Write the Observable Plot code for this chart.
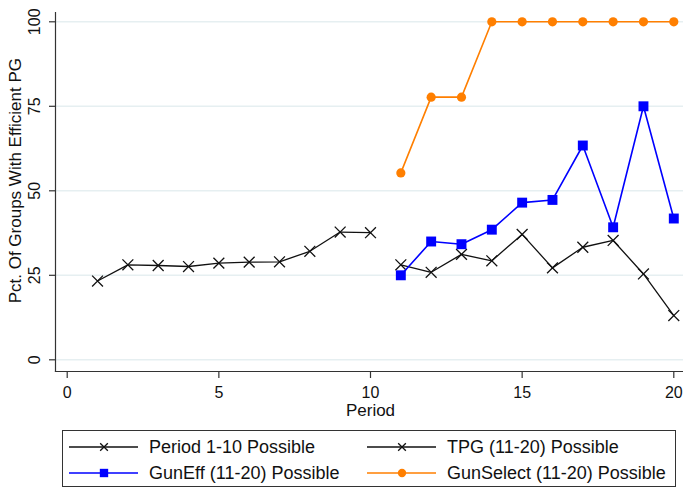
<!DOCTYPE html>
<html>
<head>
<meta charset="utf-8">
<script src="https://cdn.jsdelivr.net/npm/d3@7"></script>
<script src="https://cdn.jsdelivr.net/npm/@observablehq/plot@0.6"></script>
<style>
  body { margin: 0; background: #fff; font-family: "Liberation Sans", Arial, sans-serif; }
  #wrap { position: relative; width: 683px; height: 489px; }
  #legend { position: absolute; left: 62px; top: 430px; width: 614px; height: 57px;
            border: 1px solid #333; box-sizing: border-box; background: #fff; }
  .item { position: absolute; display: flex; align-items: center; font-size: 18px; color: #111; white-space: nowrap; }
  .item svg { margin-right: 10px; }
</style>
</head>
<body>
<div id="wrap">
  <div id="chart"></div>
  <div id="legend"></div>
</div>
<script>
const periods1 = [1, 2, 3, 4, 5, 6, 7, 8, 9, 10];
const period110 = [23.3, 28.1, 27.9, 27.6, 28.6, 28.9, 29.0, 32.1, 37.8, 37.6];
const periods2 = [11, 12, 13, 14, 15, 16, 17, 18, 19, 20];
const tpg = [28.1, 25.9, 31.2, 29.3, 37.1, 27.2, 33.3, 35.3, 25.4, 13.1];
const gunEff = [25.0, 35.0, 34.2, 38.5, 46.5, 47.3, 63.4, 39.2, 75.0, 41.8];
const gunSelect = [55.3, 77.7, 77.7, 100, 100, 100, 100, 100, 100, 100];
const yTicks = [0, 25, 50, 75, 100];
const xTicks = [0, 5, 10, 15, 20];
const seriesNames = ["Period 1-10 Possible", "TPG (11-20) Possible", "GunEff (11-20) Possible", "GunSelect (11-20) Possible"];

const s1 = periods1.map((p, i) => ({x: p, y: period110[i]}));
const s2 = periods2.map((p, i) => ({x: p, y: tpg[i]}));
const s3 = periods2.map((p, i) => ({x: p, y: gunEff[i]}));
const s4 = periods2.map((p, i) => ({x: p, y: gunSelect[i]}));

const BLUE = "#0000ff", ORANGE = "#ff7f00", BLACK = "#111";

const chart = Plot.plot({
  width: 683,
  height: 420,
  marginLeft: 55,
  marginRight: 0,
  marginTop: 12,
  marginBottom: 49,
  style: {fontFamily: "Liberation Sans, Arial, sans-serif", background: "#fff"},
  x: {domain: [-0.386, 20.32]},
  y: {domain: [-3.46, 102.75]},
  marks: [
    Plot.ruleY(yTicks, {stroke: "#e6eff1", strokeWidth: 1.5}),
    Plot.frame({anchor: "left", stroke: "#333", strokeWidth: 1.2}),
    Plot.frame({anchor: "bottom", stroke: "#333", strokeWidth: 1.2}),
    Plot.axisY({ticks: yTicks, tickSize: 6, tickFormat: () => "", label: null, stroke: "#333", strokeWidth: 1.2}),
    Plot.text(yTicks, {y: d => d, frameAnchor: "left", dx: -21, text: d => String(d), rotate: -90, textAnchor: "middle", lineAnchor: "middle", fontSize: 16, fill: "#111"}),
    Plot.axisX({ticks: xTicks, tickSize: 7, tickPadding: 8, fontSize: 16, label: null, stroke: "#333", strokeWidth: 1.2, fill: "#111"}),
    Plot.text(["Period"], {x: 10, frameAnchor: "bottom", dy: 39, text: d => d, fontSize: 17, lineAnchor: "middle", fill: "#111"}),
    Plot.text(["Pct. Of Groups With Efficient PG"], {frameAnchor: "left", y: 53, dx: -39.5, text: d => d, rotate: -90, fontSize: 17, textAnchor: "middle", lineAnchor: "middle", fill: "#111"}),
    Plot.line(s1, {x: "x", y: "y", stroke: BLACK, strokeWidth: 1.3}),
    Plot.dot(s1, {x: "x", y: "y", symbol: "times", r: 5, stroke: BLACK, strokeWidth: 1.3}),
    Plot.line(s2, {x: "x", y: "y", stroke: BLACK, strokeWidth: 1.3}),
    Plot.dot(s2, {x: "x", y: "y", symbol: "times", r: 5, stroke: BLACK, strokeWidth: 1.3}),
    Plot.line(s3, {x: "x", y: "y", stroke: BLUE, strokeWidth: 1.6}),
    Plot.dot(s3, {x: "x", y: "y", symbol: "square", r: 5.6, fill: BLUE, stroke: "none"}),
    Plot.line(s4, {x: "x", y: "y", stroke: ORANGE, strokeWidth: 1.6}),
    Plot.dot(s4, {x: "x", y: "y", symbol: "circle", r: 4.6, fill: ORANGE, stroke: "none"})
  ]
});
document.getElementById("chart").appendChild(chart);

// Legend
const legendSpec = [
  {name: seriesNames[0], color: BLACK, sym: "times", left: 6, top: 16},
  {name: seriesNames[1], color: BLACK, sym: "times", left: 304, top: 16},
  {name: seriesNames[2], color: BLUE, sym: "square", left: 6, top: 42},
  {name: seriesNames[3], color: ORANGE, sym: "circle", left: 304, top: 42}
];
const leg = document.getElementById("legend");
const NS = "http://www.w3.org/2000/svg";
legendSpec.forEach(s => {
  const div = document.createElement("div");
  div.className = "item";
  div.style.left = s.left + "px";
  div.style.top = (s.top - 12) + "px";
  div.style.height = "24px";
  const svg = document.createElementNS(NS, "svg");
  svg.setAttribute("width", 70); svg.setAttribute("height", 24);
  const line = document.createElementNS(NS, "line");
  line.setAttribute("x1", 0); line.setAttribute("x2", 69); line.setAttribute("y1", 12); line.setAttribute("y2", 12);
  line.setAttribute("stroke", s.color); line.setAttribute("stroke-width", 1.4);
  svg.appendChild(line);
  const path = document.createElementNS(NS, "path");
  const symType = s.sym === "times" ? d3.symbolTimes : s.sym === "square" ? d3.symbolSquare : d3.symbolCircle;
  path.setAttribute("d", d3.symbol(symType, s.sym === "times" ? 40 : s.sym === "square" ? 70 : 55)());
  path.setAttribute("transform", "translate(35,12)");
  if (s.sym === "times") { path.setAttribute("stroke", s.color); path.setAttribute("fill", "none"); path.setAttribute("stroke-width", 1.3); }
  else { path.setAttribute("fill", s.color); }
  svg.appendChild(path);
  div.appendChild(svg);
  const span = document.createElement("span");
  span.textContent = s.name;
  div.appendChild(span);
  leg.appendChild(div);
});
</script>
</body>
</html>
